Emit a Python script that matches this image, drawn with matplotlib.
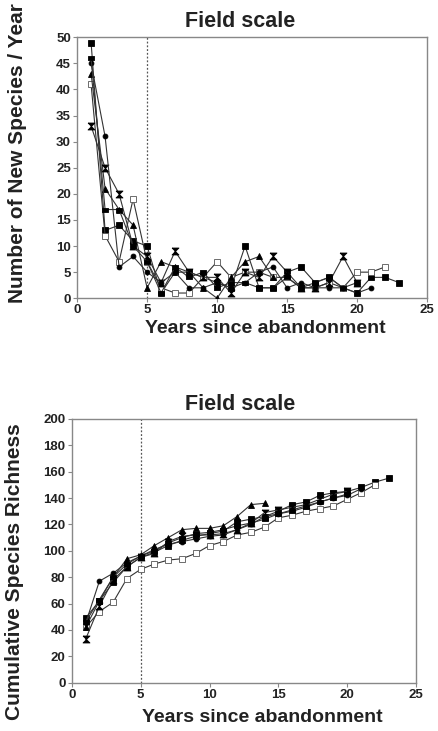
import matplotlib
matplotlib.use("Agg")
import matplotlib.pyplot as plt

plt.rcParams['font.family'] = ['Liberation Sans', 'DejaVu Sans']

# ---------------- data: new species per year ----------------
new_sq_filled = [49, 13, 14, 11, 10, 1, 5, 5, 4, 3, 2, 10, 2, 2, 5, 6, 3, 4, 2, 1, 4, 4, 3]
new_sq_open = [41, 12, 7, 19, 7, 2, 1, 1, 4, 7, 4, 5, 5, 4, 4, 2, 2, 3, 2, 5, 5, 6]
new_triangle = [43, 21, 17, 14, 2, 7, 6, 5, 2, 0, 4, 7, 8, 4]
new_bowtie = [33, 25, 20, 10, 8, 3, 9, 5, 4, 4, 1, 5, 4, 8, 5, 2, 2, 3, 8, 3]
new_circle = [45, 31, 6, 8, 5, 3, 5, 2, 2, 3, 2, 3, 5, 6, 2, 3, 2, 2, 2, 1, 2]
new_dash = [46, 17, 17, 10, 7, 1, 6, 4, 5, 2, 3, 3, 2, 2, 4, 2, 3, 4, 2, 3]

# ---------------- data: cumulative species richness ----------------
cum_sq_filled = [49, 62, 76, 88, 95, 99, 104, 108, 111, 113, 115, 122, 124, 126, 130,
                 135, 137, 142, 144, 145, 148, 152, 155]
cum_sq_open = [42, 54, 61, 79, 86, 90, 93, 94, 98, 104, 107, 112, 114, 118, 125, 127,
               130, 132, 134, 139, 144, 150]
cum_triangle = [42, 62, 80, 94, 97, 104, 110, 116, 117, 117, 119, 126, 135, 136]
cum_bowtie = [33, 58, 78, 88, 95, 98, 107, 111, 112, 112, 113, 116, 121, 129, 131, 133,
              135, 139, 143, 145]
cum_circle = [45, 77, 83, 91, 96, 101, 105, 107, 109, 111, 112, 116, 120, 126, 128, 131,
              134, 137, 140, 142, 147]
cum_dash = [46, 63, 80, 90, 96, 100, 106, 110, 113, 114, 116, 119, 121, 124, 128, 130,
            133, 137, 140, 143]

title_text = "Field scale"
xlabel_text = "Years since abandonment"
ylabel_top = "Number of New Species / Year"
ylabel_bottom = "Cumulative Species Richness"

bowtie = [(-1, 1), (1, 1), (-1, -1), (1, -1), (-1, 1)]
dash = [(-1, -0.55), (1, -0.55), (1, 0.55), (-1, 0.55), (-1, -0.55)]

styles = [
    dict(marker='s', mfc='black', mec='black', ms=4.5),
    dict(marker='s', mfc='white', mec='#555555', ms=5),
    dict(marker='^', mfc='black', mec='black', ms=5),
    dict(marker=bowtie, mfc='black', mec='black', ms=5),
    dict(marker='o', mfc='black', mec='black', ms=3.5),
    dict(marker=dash, mfc='black', mec='black', ms=5),
]

fig = plt.figure(figsize=(4.38, 7.31), dpi=100)
ax1 = fig.add_axes([0.176, 0.592, 0.799, 0.357])
ax2 = fig.add_axes([0.164, 0.066, 0.786, 0.361])

def draw(ax, series, ymax, ystep):
    for vals, st in zip(series, styles):
        xs = list(range(1, len(vals) + 1))
        ax.plot(xs, vals, color='#333333', lw=0.8, mew=0.6, zorder=3, **st)
    ax.axvline(5, color='#555555', lw=0.9, ls=(0, (1.5, 1.5)), zorder=1)
    ax.set_xlim(0, 25)
    ax.set_ylim(0, ymax)
    ax.set_xticks(range(0, 26, 5))
    ax.set_yticks(range(0, ymax + 1, ystep))
    for s in ax.spines.values():
        s.set_color('#888888')
        s.set_linewidth(1.0)
    ax.tick_params(direction='out', length=3, width=0.8, color='#888888',
                   labelsize=9.5, pad=1.5)
    for lab in ax.get_xticklabels() + ax.get_yticklabels():
        lab.set_fontweight('bold')
        lab.set_color('#222222')

draw(ax1, [new_sq_filled, new_sq_open, new_triangle, new_bowtie, new_circle, new_dash], 50, 5)
draw(ax2, [cum_sq_filled, cum_sq_open, cum_triangle, cum_bowtie, cum_circle, cum_dash], 200, 20)

kw = dict(fontweight='bold', color='#222222')
fig.text(0.548, 0.970, title_text, ha='center', va='center', fontsize=15.5, **kw)
fig.text(0.548, 0.446, title_text, ha='center', va='center', fontsize=15.5, **kw)
fig.text(0.605, 0.550, xlabel_text, ha='center', va='center', fontsize=14, **kw)
fig.text(0.598, 0.019, xlabel_text, ha='center', va='center', fontsize=14, **kw)
fig.text(0.041, 0.790, ylabel_top, ha='center', va='center', rotation=90, fontsize=15, **kw)
fig.text(0.034, 0.218, ylabel_bottom, ha='center', va='center', rotation=90, fontsize=15, **kw)

fig.savefig("out.png", dpi=100)
